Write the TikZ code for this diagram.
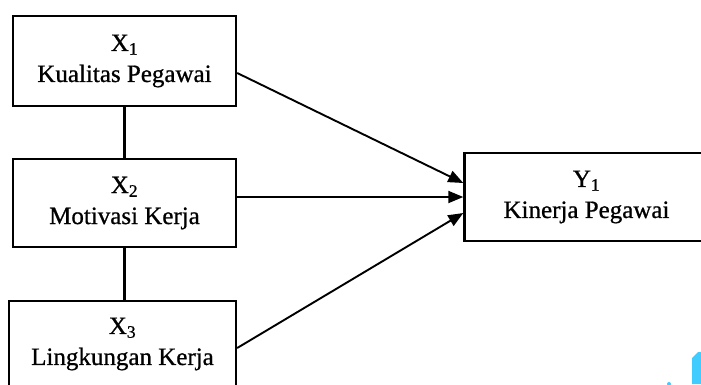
\documentclass[tikz,border=0pt]{standalone}
\usepackage{fontspec}
\setmainfont{Liberation Serif}[FakeBold=0.8]
\usetikzlibrary{arrows.meta}
\definecolor{artblue}{RGB}{64,204,255}
\begin{document}
\begin{tikzpicture}[x=1pt,y=-1pt,
  box/.style={draw, line width=2.4pt, align=center, inner sep=0pt,
    font=\fontsize{25}{31}\selectfont},
  link/.style={line width=2.2pt},
  arr/.style={line width=1.9pt, -{Triangle[length=15pt,width=12pt]}}]
\useasboundingbox (0,0) rectangle (701,384);
\begin{scope}
\clip (0,0) rectangle (701,384);
\node[box, minimum width=223pt, minimum height=90pt] (x1) at (124.5,61)
  {X\textsubscript{1}\\Kualitas Pegawai};
\node[box, minimum width=223pt, minimum height=88pt] (x2) at (124.5,203)
  {X\textsubscript{2}\\Motivasi Kerja};
\node[box, minimum width=227pt, minimum height=86pt] (x3) at (122.5,344)
  {X\textsubscript{3}\\Lingkungan Kerja};
\node[box, minimum width=244pt, minimum height=88pt] (y1) at (586.5,197)
  {Y\textsubscript{1}\\Kinerja Pegawai};
\draw[link] (x1.south) -- (x1.south |- x2.north);
\draw[link] (x2.south) -- (x2.south |- x3.north);
\draw[arr] ([yshift=-12pt]x1.east) -- ([yshift=14pt]y1.west);
\draw[arr] ([yshift=6pt]x2.east) -- (y1.west);
\draw[arr] ([yshift=-4pt]x3.east) -- ([yshift=-16pt]y1.west);
\fill[artblue] (692,358) -- (698,352) -- (701,352) -- (701,384) -- (692,384) -- cycle;
\fill[artblue] (669,384) circle (2pt);
\end{scope}
\end{tikzpicture}
\end{document}
